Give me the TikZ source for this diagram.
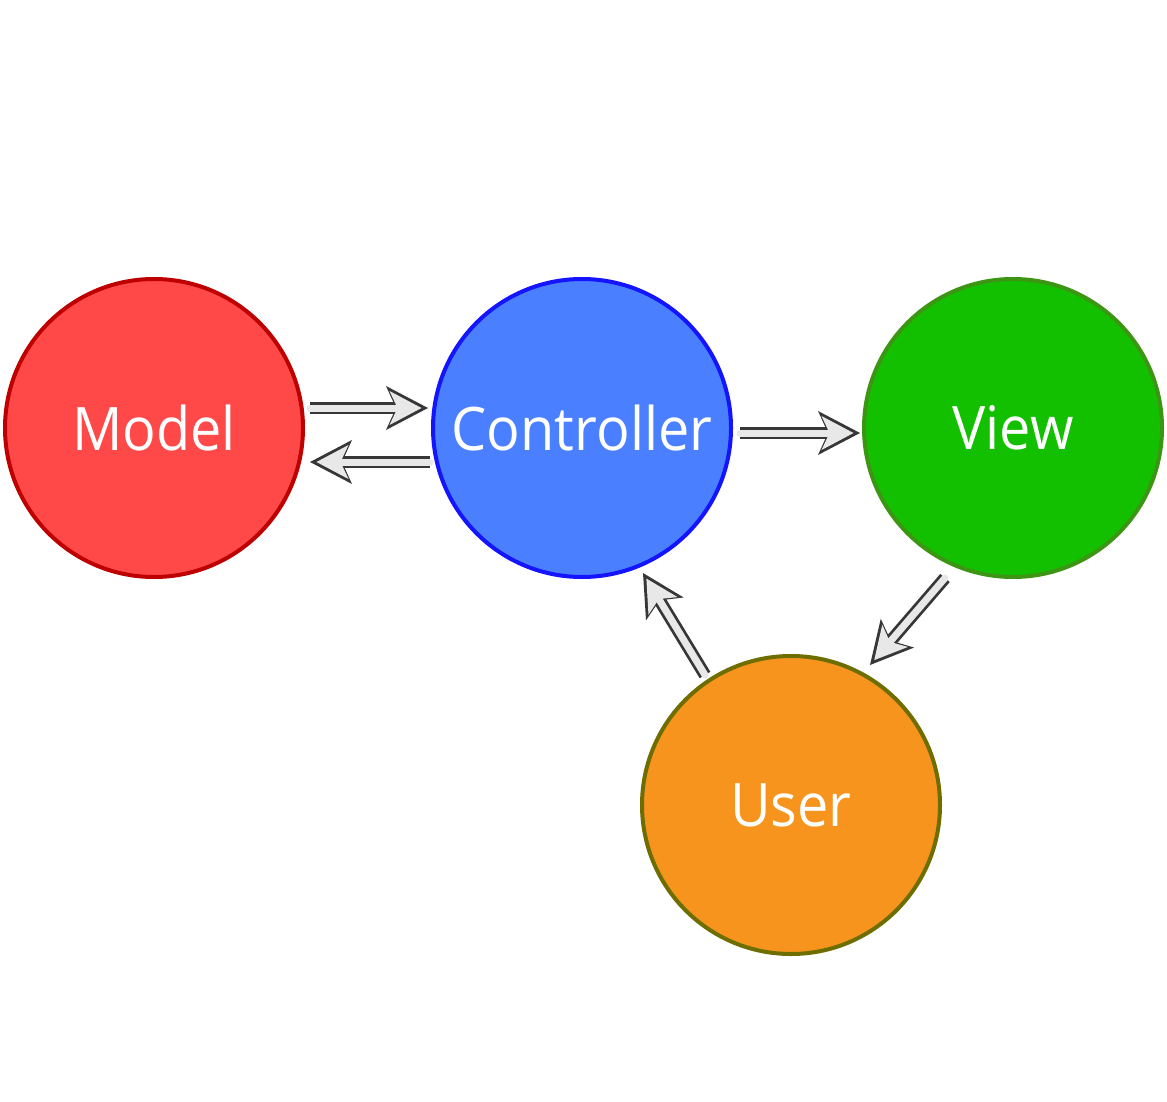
\documentclass[tikz,border=0pt]{standalone}
\usepackage{fontspec}
\setmainfont{Open Sans}[FakeStretch=0.93]
\usetikzlibrary{arrows.meta}
\usetikzlibrary{calc}

\definecolor{modelfill}{RGB}{255,72,72}
\definecolor{modelline}{RGB}{190,0,0}
\definecolor{ctrlfill}{RGB}{74,128,255}
\definecolor{ctrlline}{RGB}{20,20,255}
\definecolor{viewfill}{RGB}{18,192,0}
\definecolor{viewline}{RGB}{60,150,20}
\definecolor{userfill}{RGB}{247,148,30}
\definecolor{userline}{RGB}{110,110,0}
\definecolor{flechafill}{RGB}{232,232,232}
\definecolor{flechaline}{RGB}{55,55,55}

\begin{document}
\begin{tikzpicture}[x=1pt, y=-1pt,
    every node/.style={draw, circle, minimum size=298pt, line width=4pt, text=white, font=\fontsize{60}{72}\selectfont},
    flecha/.style={draw=flechafill, line width=7pt, line cap=round,
      -{Stealth[length=32pt, width=34pt, inset=8pt, line width=0pt]},
      shorten >=6.5pt,
      preaction={draw=flechaline, line width=12.5pt, shorten >=0pt,
        -{Stealth[length=42pt, width=44pt, inset=10pt, line width=0pt]}}}]
            \path[use as bounding box, fill=white] (0,0) rectangle (1167,1102);

            % Nodos
            \node[fill=modelfill, draw=modelline] (model) at (154,428) {Model};
            \node[fill=ctrlfill, draw=ctrlline] (controller) at (582,428) {Controller};
            \node[fill=viewfill, draw=viewline] (view) at (1013,428) {View};
            \node[fill=userfill, draw=userline] (user) at (791,805) {User};

            % Flechas
            \draw[flecha] ($(model.center)+(156,-20)$) -- ($(controller.center)+(-154,-20)$);
            \draw[flecha] ($(controller.center)+(-152,34)$) -- ($(model.center)+(156,34)$);
            \draw[flecha] ($(controller.center)+(158,5)$) -- ($(view.center)+(-153,5)$);
            \draw[flecha] ($(view.center)+(-68,150)$) -- ($(user.center)+(79,-140)$);
            \draw[flecha] ($(user.center)+(-86,-130)$) -- ($(controller.center)+(61,145)$);
          \end{tikzpicture}
\end{document}
